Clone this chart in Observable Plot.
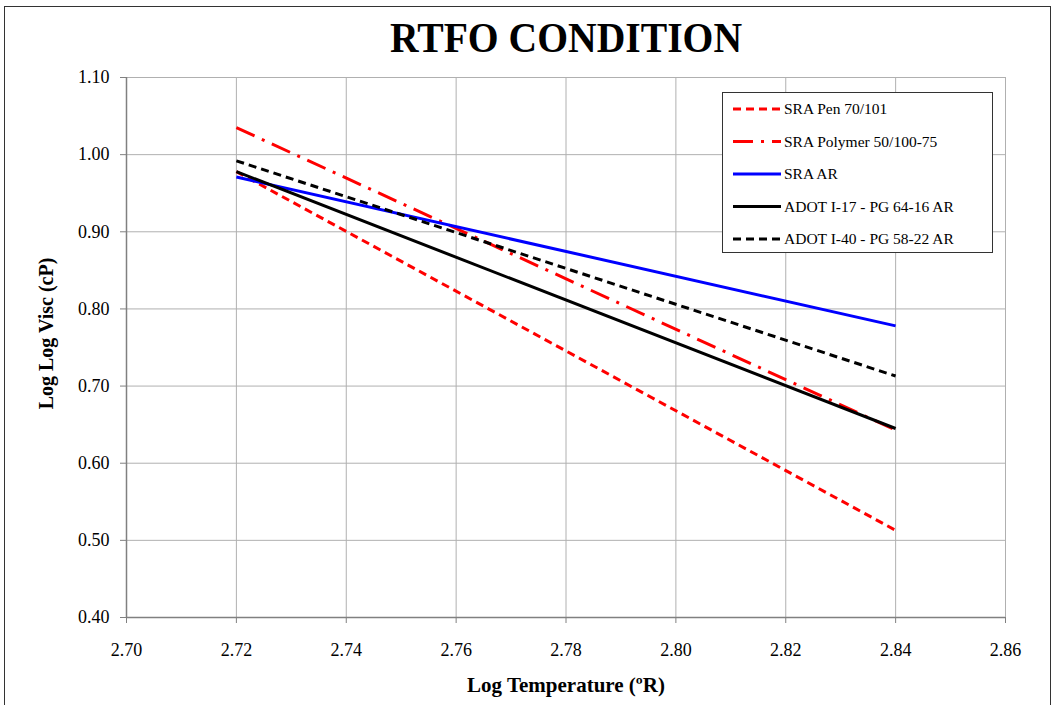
<!DOCTYPE html>
<html><head><meta charset="utf-8">
<script src="https://cdn.jsdelivr.net/npm/d3@7"></script>
<script src="https://cdn.jsdelivr.net/npm/@observablehq/plot@0.6"></script>
<style>
body{margin:0;background:#fff;font-family:"Liberation Serif","Times New Roman",serif;}
#wrap{position:relative;width:1063px;height:705px;overflow:hidden;}
#frame{position:absolute;left:4px;top:6px;width:1047px;height:710px;border:1.5px solid #333;box-sizing:border-box;pointer-events:none;}
#legend{position:absolute;left:722px;top:92px;width:271px;height:161px;border:1.5px solid #333;background:#fff;box-sizing:border-box;}
</style></head>
<body><div id="wrap"><div id="frame"></div><div id="chart"></div><div id="legend"></div></div>
<script>
const xTicks = [2.70, 2.72, 2.74, 2.76, 2.78, 2.80, 2.82, 2.84, 2.86];
const yTicks = [0.40, 0.50, 0.60, 0.70, 0.80, 0.90, 1.00, 1.10];
const seriesNames = ["SRA Pen 70/101", "SRA Polymer 50/100-75", "SRA AR", "ADOT I-17 - PG 64-16 AR", "ADOT I-40 - PG 58-22 AR"];
const seriesColors = ["#ff0000", "#ff0000", "#0000ff", "#000000", "#000000"];
const seriesDash = ["8,5", "20,8,3,8", null, null, "8,5"];
const logTemp = [2.72, 2.84];
const penVals = [0.978, 0.513];
const polymerVals = [1.035, 0.643];
const arVals = [0.971, 0.778];
const i17Vals = [0.978, 0.645];
const i40Vals = [0.992, 0.713];
const allVals = [penVals, polymerVals, arVals, i17Vals, i40Vals];

const rows = [];
seriesNames.forEach((s, i) => logTemp.forEach((x, j) => rows.push({series: s, x, y: allVals[i][j], idx: i})));

const font = '"Liberation Serif","Times New Roman",serif';
const fmt = d3.format(".2f");
const marks = [
  Plot.gridX(xTicks, {stroke: "#b0b0b0", strokeOpacity: 1, strokeWidth: 1}),
  Plot.gridY(yTicks, {stroke: "#b0b0b0", strokeOpacity: 1, strokeWidth: 1}),
  Plot.ruleX([xTicks[0]], {stroke: "#808080", strokeWidth: 1.5}),
  Plot.ruleY([yTicks[0]], {stroke: "#808080", strokeWidth: 1.5}),
  Plot.axisX(xTicks, {text: null, tickSize: 6, stroke: "#808080", label: null}),
  Plot.axisY(yTicks, {text: null, tickSize: 6, stroke: "#808080", label: null}),
  Plot.text(xTicks, {x: d => d, text: d => fmt(d), frameAnchor: "bottom", lineAnchor: "middle", dy: 33, fontSize: 18, fill: "#000", fontFamily: font}),
  Plot.text(yTicks, {y: d => d, text: d => fmt(d), frameAnchor: "left", textAnchor: "end", lineAnchor: "middle", dx: -17, fontSize: 18, fill: "#000", fontFamily: font}),
];
seriesNames.forEach((s, i) => {
  marks.push(Plot.line(rows.filter(r => r.idx === i), {x: "x", y: "y", stroke: seriesColors[i], strokeWidth: 3, strokeDasharray: seriesDash[i] || undefined, strokeLinecap: "butt"}));
});
marks.push(Plot.text(["RTFO CONDITION"], {frameAnchor: "top", lineAnchor: "middle", dy: -39, fontSize: 42, fontWeight: "bold", fill: "#000", fontFamily: font, className: "ttl"}));
marks.push(Plot.text(["Log Temperature (ºR)"], {frameAnchor: "bottom", lineAnchor: "middle", dy: 68, fontSize: 21, fontWeight: "bold", fill: "#000", fontFamily: font}));
marks.push(Plot.text(["Log Log Visc (cP)"], {frameAnchor: "left", textAnchor: "middle", lineAnchor: "middle", dx: -80, dy: -14, rotate: -90, fontSize: 20, fontWeight: "bold", fill: "#000", fontFamily: font}));

const chart = Plot.plot({
  width: 1063, height: 705,
  marginLeft: 126, marginRight: 58, marginTop: 77, marginBottom: 88,
  x: {domain: [2.70, 2.86]},
  y: {domain: [0.40, 1.10]},
  style: {fontFamily: font, color: "#000", background: "transparent", overflow: "visible"},
  marks
});
document.getElementById("chart").appendChild(chart);
d3.select(chart).selectAll(".ttl text").attr("textLength", 352).attr("lengthAdjust", "spacingAndGlyphs");

// legend
const leg = d3.select("#legend").append("svg").attr("width", 268).attr("height", 158);
seriesNames.forEach((s, i) => {
  const y = 16 + i * 32.5;
  leg.append("line").attr("x1", 10).attr("x2", 58).attr("y1", y).attr("y2", y)
    .attr("stroke", seriesColors[i]).attr("stroke-width", 3)
    .attr("stroke-dasharray", seriesDash[i] || null);
  leg.append("text").attr("x", 61).attr("y", y + 5).text(s)
    .style("font-family", font).attr("font-size", 15.5).attr("fill", "#000");
});
</script></body></html>
